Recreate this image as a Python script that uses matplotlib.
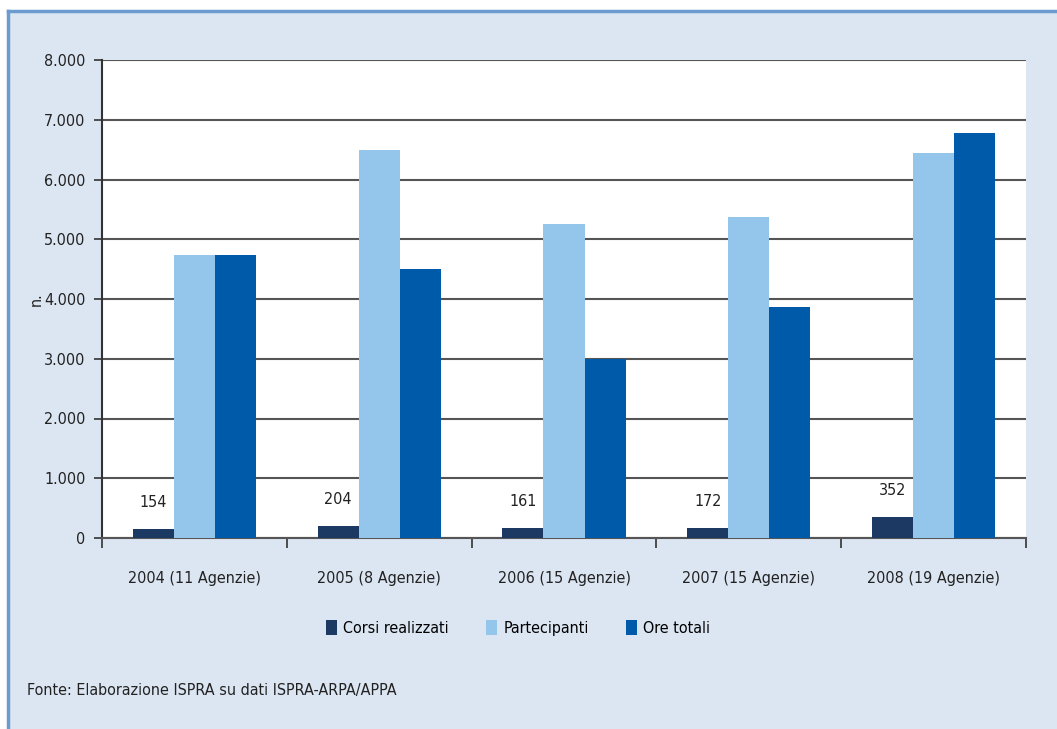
import numpy as np
import matplotlib.pyplot as plt
from matplotlib.patches import Rectangle
from matplotlib.lines import Line2D
from matplotlib.ticker import FuncFormatter

plt.rcParams['font.family'] = ['DejaVu Sans']
plt.rcParams['font.stretch'] = 'condensed'

categories = ["2004 (11 Agenzie)", "2005 (8 Agenzie)", "2006 (15 Agenzie)",
              "2007 (15 Agenzie)", "2008 (19 Agenzie)"]
corsi = [154, 204, 161, 172, 352]
partecipanti = [4730, 6490, 5260, 5380, 6440]
ore = [4730, 4510, 3000, 3870, 6780]
series_names = ["Corsi realizzati", "Partecipanti", "Ore totali"]
colors = ["#1c3963", "#94c5ea", "#005aaa"]

W, H = 1057, 729
fig = plt.figure(figsize=(W / 100, H / 100), dpi=100)
fig.patch.set_facecolor("white")

# blue panel with border on top and left
bx, by = 8 / W, (H - 11) / H
fig.patches.append(Rectangle((bx, 0), 1 - bx, by, transform=fig.transFigure,
                             facecolor="#dce6f2", edgecolor="none", zorder=-5))
fig.lines.append(Line2D([bx, bx], [0, by], transform=fig.transFigure, color="#6c9bcf", lw=2.5, zorder=-4))
fig.lines.append(Line2D([bx, 1], [by, by], transform=fig.transFigure, color="#6c9bcf", lw=2.5, zorder=-4))

ax = fig.add_axes([102 / W, (H - 538) / H, (1026 - 102) / W, (538 - 60) / H])
ax.set_zorder(2)
ax.set_facecolor("white")

x = np.arange(len(categories))
bw = 0.222
for i, (vals, name, c) in enumerate(zip([corsi, partecipanti, ore], series_names, colors)):
    ax.bar(x + (i - 1) * bw, vals, width=bw, color=c, label=name, zorder=3)

for xi, v in zip(x, corsi):
    ax.text(xi - bw, v + 320, str(v), ha="center", va="bottom", fontsize=11.5, color="#222222")

ax.set_xlim(-0.5, len(categories) - 0.5)
ax.set_ylim(0, 8000)
ax.set_yticks(np.arange(0, 8001, 1000))
ax.yaxis.set_major_formatter(FuncFormatter(lambda v, p: f"{int(v):,}".replace(",", ".")))
ax.grid(axis="y", color="#555555", lw=1.5, zorder=1)
ax.set_xticks(x)
ax.set_xticklabels(categories)
ax.set_xticks(np.arange(-0.5, len(categories), 1.0), minor=True)
ax.tick_params(axis="x", which="major", length=0, pad=24, labelsize=11.5, colors="#222222")
ax.tick_params(axis="x", which="minor", length=7, width=1.2, direction="out", color="#333333")
ax.tick_params(axis="y", length=6, width=1.2, direction="out", labelsize=11.5, colors="#333333",
               labelcolor="#222222", pad=6)

for s in ["top", "right"]:
    ax.spines[s].set_visible(False)
ax.spines["left"].set_color("#333333")
ax.spines["left"].set_linewidth(1.5)
ax.spines["bottom"].set_color("#555555")
ax.spines["bottom"].set_linewidth(1.5)

ax.set_ylabel("n.", fontsize=11.5, color="#222222", labelpad=0)

fig.legend(loc="center", bbox_to_anchor=(518 / W, (H - 628) / H), ncol=3, frameon=False,
           fontsize=11.5, handlelength=0.7, handleheight=1.1, columnspacing=2.3, handletextpad=0.4)

fig.text(27 / W, (H - 690) / H, "Fonte: Elaborazione ISPRA su dati ISPRA-ARPA/APPA",
         fontsize=11.5, color="#222222", va="center", ha="left")

fig.savefig("out.png", dpi=100, facecolor=fig.get_facecolor())
